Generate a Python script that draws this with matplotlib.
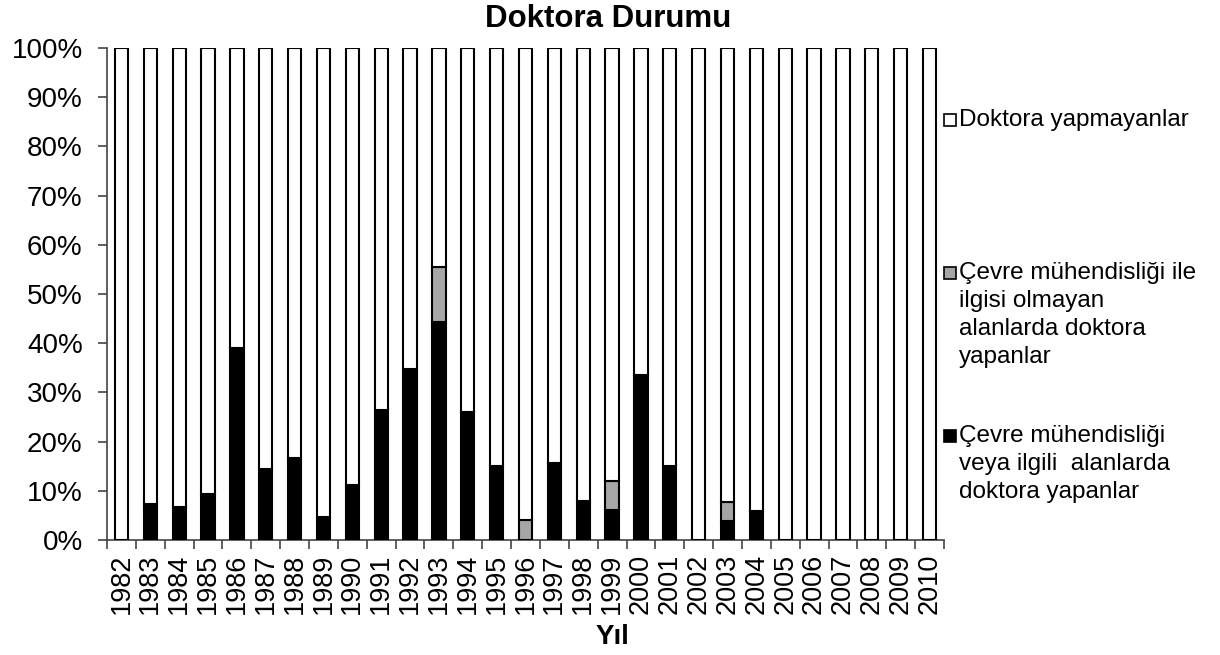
import matplotlib
matplotlib.use("Agg")
import matplotlib.pyplot as plt
from matplotlib.patches import Rectangle
import numpy as np

plt.rcParams['font.family'] = ['Liberation Sans', 'DejaVu Sans']

years = [str(y) for y in range(1982, 2011)]
# percentages
related = [0, 7.4, 6.8, 9.4, 39.1, 14.4, 16.7, 4.7, 11.2, 26.4, 34.7, 44.4, 26.1,
           15.1, 0, 15.7, 7.9, 6.0, 33.6, 15.1, 0, 3.9, 5.8, 0, 0, 0, 0, 0, 0]
unrelated = [0, 0, 0, 0, 0, 0, 0, 0, 0, 0, 0, 11.1, 0,
             0, 4.1, 0, 0, 6.0, 0, 0, 0, 3.9, 0, 0, 0, 0, 0, 0, 0]
no_phd = [100 - a - b for a, b in zip(related, unrelated)]

labels = ["Doktora yapmayanlar",
          "Çevre mühendisliği ile\nilgisi olmayan\nalanlarda doktora\nyapanlar",
          "Çevre mühendisliği\nveya ilgili  alanlarda\ndoktora yapanlar"]
colors = ["white", "#A6A6A6", "black"]
yticks = list(range(0, 101, 10))

W, H = 1220, 655
fig = plt.figure(figsize=(W / 100, H / 100), dpi=100)
ax = fig.add_axes([107 / W, 1 - 540 / H, (944 - 107) / W, (540 - 48) / H])

x = np.arange(len(years))
bw = 0.46
ax.bar(x, related, bw, color=colors[2], edgecolor='black', linewidth=1.5, zorder=3)
ax.bar(x, unrelated, bw, bottom=related, color=colors[1], edgecolor='black', linewidth=1.5, zorder=3)
bottom2 = [a + b for a, b in zip(related, unrelated)]
ax.bar(x, no_phd, bw, bottom=bottom2, color=colors[0], edgecolor='black', linewidth=1.5, zorder=3)

ax.set_xlim(-0.5, len(years) - 0.5)
ax.set_ylim(0, 100)
ax.set_yticks(yticks)
ax.set_yticklabels([f"{v}%" for v in yticks], fontsize=20)
ax.tick_params(axis='y', length=6.5, width=1.2, color='#444444', pad=11)

ax.set_xticks(x)
ax.set_xticklabels(years, rotation=90, fontsize=19.5)
ax.tick_params(axis='x', which='major', length=0, pad=10)
ax.set_xticks(np.arange(-0.5, len(years), 1), minor=True)
ax.tick_params(axis='x', which='minor', length=6.5, width=1.2, color='#444444')

for s in ['top', 'right']:
    ax.spines[s].set_visible(False)
for s in ['left', 'bottom']:
    ax.spines[s].set_color('#444444')
    ax.spines[s].set_linewidth(1.2)

fig.text(608 / W, 1 - 19 / H, "Doktora Durumu", ha='center', va='center',
         fontsize=22.5, fontweight='bold')
fig.text(612 / W, 1 - 637 / H, "Yıl", ha='center', va='center',
         fontsize=20, fontweight='bold')

# legend (custom, marker aligned with first line)
first_y = [120, 273, 436]
legend_colors = [colors[0], colors[1], colors[2]]
line_h = 28
for lab, fy, c in zip(labels, first_y, legend_colors):
    fig.patches.append(Rectangle((944 / W, 1 - (fy + 6) / H), 12 / W, 12 / H,
                                 transform=fig.transFigure, facecolor=c,
                                 edgecolor='black', linewidth=1.2))
    for i, line in enumerate(lab.split("\n")):
        fig.text(959 / W, 1 - (fy + i * line_h) / H, line, ha='left', va='center',
                 fontsize=17.5)

fig.savefig("out.png", dpi=100)
